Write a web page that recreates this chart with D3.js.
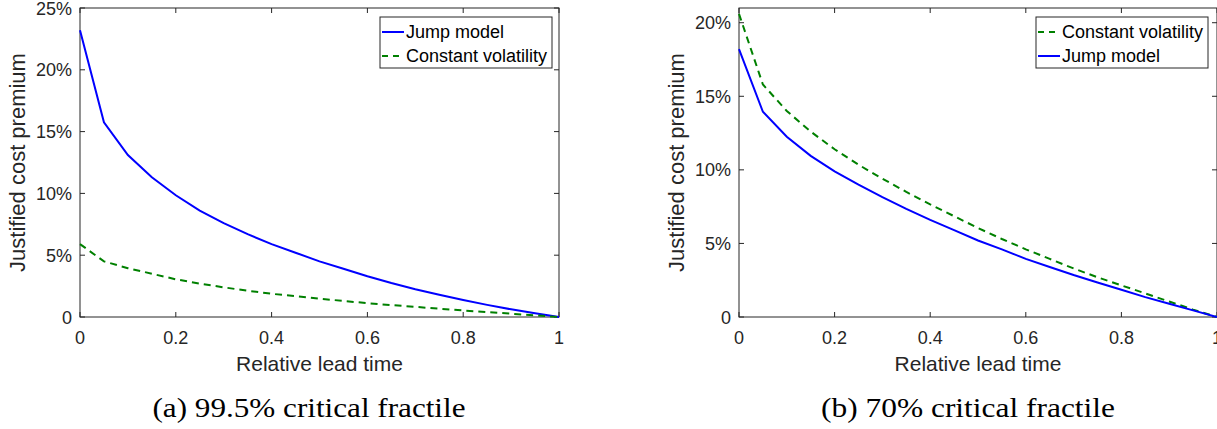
<!DOCTYPE html>
<html><head><meta charset="utf-8">
<script src="https://cdn.jsdelivr.net/npm/d3@7"></script>
<style>
html,body{margin:0;padding:0;background:#fff;overflow:hidden;}
svg{display:block;}
</style></head>
<body>
<svg id="chart" width="1217" height="429"></svg>
<script>
const leadTime = [0,0.05,0.1,0.15,0.2,0.25,0.3,0.35,0.4,0.45,0.5,0.55,0.6,0.65,0.7,0.75,0.8,0.85,0.9,0.95,1];
// Panel (a): 99.5% critical fractile (values in %)
const jumpA  = [23.2,15.75,13.1,11.3,9.85,8.6,7.6,6.7,5.9,5.2,4.5,3.9,3.3,2.75,2.25,1.8,1.38,0.98,0.62,0.3,0];
const constA = [5.9,4.5,3.95,3.5,3.05,2.7,2.4,2.12,1.88,1.68,1.48,1.3,1.12,0.96,0.82,0.67,0.53,0.4,0.27,0.13,0];
// Panel (b): 70% critical fractile (values in %)
const jumpB  = [18.2,13.95,12.25,10.95,9.9,9.0,8.15,7.35,6.6,5.9,5.2,4.6,3.95,3.4,2.85,2.35,1.85,1.35,0.9,0.45,0];
const constB = [20.6,15.8,14.0,12.6,11.4,10.35,9.4,8.5,7.65,6.85,6.05,5.3,4.6,3.95,3.3,2.7,2.15,1.6,1.05,0.5,0];
const xTicks = [0,0.2,0.4,0.6,0.8,1];
const yTicksA = [0,5,10,15,20,25];
const yTicksB = [0,5,10,15,20];
const xLabel = "Relative lead time";
const yLabel = "Justified cost premium";
const captionA = "(a) 99.5% critical fractile";
const captionB = "(b) 70% critical fractile";
const jumpName = "Jump model";
const constName = "Constant volatility";

const svg = d3.select("#chart");
const AX = "#262626";
const BLUE = "#0000ff", GREEN = "#008000";
const SANS = "'Liberation Sans', Arial, Helvetica, sans-serif";
const SERIF = "'Liberation Serif', 'DejaVu Serif', serif";

function panel(o){
  const g = svg.append("g");
  const x = d3.scaleLinear().domain([0,1]).range([o.x0,o.x1]);
  const y = d3.scaleLinear().domain([0,o.ymax]).range([o.y0,o.y1]);
  const tl = 5;
  g.append("rect").attr("x",o.x0).attr("y",o.y1).attr("width",o.x1-o.x0).attr("height",o.y0-o.y1)
    .attr("fill","none").attr("stroke",AX).attr("stroke-width",1);
  xTicks.forEach(t=>{
    g.append("line").attr("x1",x(t)).attr("x2",x(t)).attr("y1",o.y0).attr("y2",o.y0-tl).attr("stroke",AX);
    g.append("line").attr("x1",x(t)).attr("x2",x(t)).attr("y1",o.y1).attr("y2",o.y1+tl).attr("stroke",AX);
    g.append("text").attr("x",x(t)).attr("y",o.y0+27).attr("text-anchor","middle")
      .attr("font-family",SANS).attr("font-size",18).attr("fill",AX).text(d3.format("")(t));
  });
  o.yTicks.forEach(t=>{
    g.append("line").attr("x1",o.x0).attr("x2",o.x0+tl).attr("y1",y(t)).attr("y2",y(t)).attr("stroke",AX);
    g.append("line").attr("x1",o.x1).attr("x2",o.x1-tl).attr("y1",y(t)).attr("y2",y(t)).attr("stroke",AX);
    g.append("text").attr("x",o.x0-8).attr("y",y(t)+6.5).attr("text-anchor","end")
      .attr("font-family",SANS).attr("font-size",18).attr("fill",AX).text(t===0?"0":t+"%");
  });
  g.append("text").attr("x",(o.x0+o.x1)/2).attr("y",o.y0+54).attr("text-anchor","middle")
    .attr("font-family",SANS).attr("font-size",21).attr("fill",AX).text(xLabel);
  g.append("text").attr("transform",`translate(${o.x0-55},${(o.y0+o.y1)/2}) rotate(-90)`)
    .attr("text-anchor","middle").attr("font-family",SANS).attr("font-size",22).attr("fill",AX).text(yLabel);
  const line = d3.line().x((d,i)=>x(leadTime[i])).y(d=>y(d));
  o.series.forEach(s=>{
    g.append("path").datum(s.values).attr("d",line).attr("fill","none")
      .attr("stroke",s.color).attr("stroke-width",2)
      .attr("stroke-dasharray",s.dash?"7,5":null);
  });
  const L = o.legend;
  g.append("rect").attr("x",L.x).attr("y",L.y).attr("width",L.w).attr("height",L.h)
    .attr("fill","#fff").attr("stroke",AX).attr("stroke-width",1);
  o.series.forEach((s,i)=>{
    const yy = L.y + 15 + i*24;
    g.append("line").attr("x1",L.x+2).attr("x2",L.x+24).attr("y1",yy).attr("y2",yy)
      .attr("stroke",s.color).attr("stroke-width",2).attr("stroke-dasharray",s.dash?"6,5":null);
    g.append("text").attr("x",L.x+26).attr("y",yy+6).attr("font-family",SANS).attr("font-size",18)
      .attr("fill","#000").text(s.name);
  });
  g.append("text").attr("x",o.capX).attr("y",417).attr("text-anchor","middle")
    .attr("font-family",SERIF).attr("font-size",28).attr("fill","#000")
    .attr("textLength",o.capW).attr("lengthAdjust","spacingAndGlyphs").text(o.caption);
}

panel({x0:80,x1:559,y0:317,y1:8,ymax:25,yTicks:yTicksA,
  series:[{name:jumpName,values:jumpA,color:BLUE,dash:false},{name:constName,values:constA,color:GREEN,dash:true}],
  legend:{x:380,y:17,w:172,h:51}, caption:captionA, capX:309, capW:313});
panel({x0:739,x1:1217,y0:317,y1:8,ymax:21,yTicks:yTicksB,
  series:[{name:constName,values:constB,color:GREEN,dash:true},{name:jumpName,values:jumpB,color:BLUE,dash:false}],
  legend:{x:1036,y:17,w:172,h:51}, caption:captionB, capX:968, capW:294});
</script>
</body></html>
